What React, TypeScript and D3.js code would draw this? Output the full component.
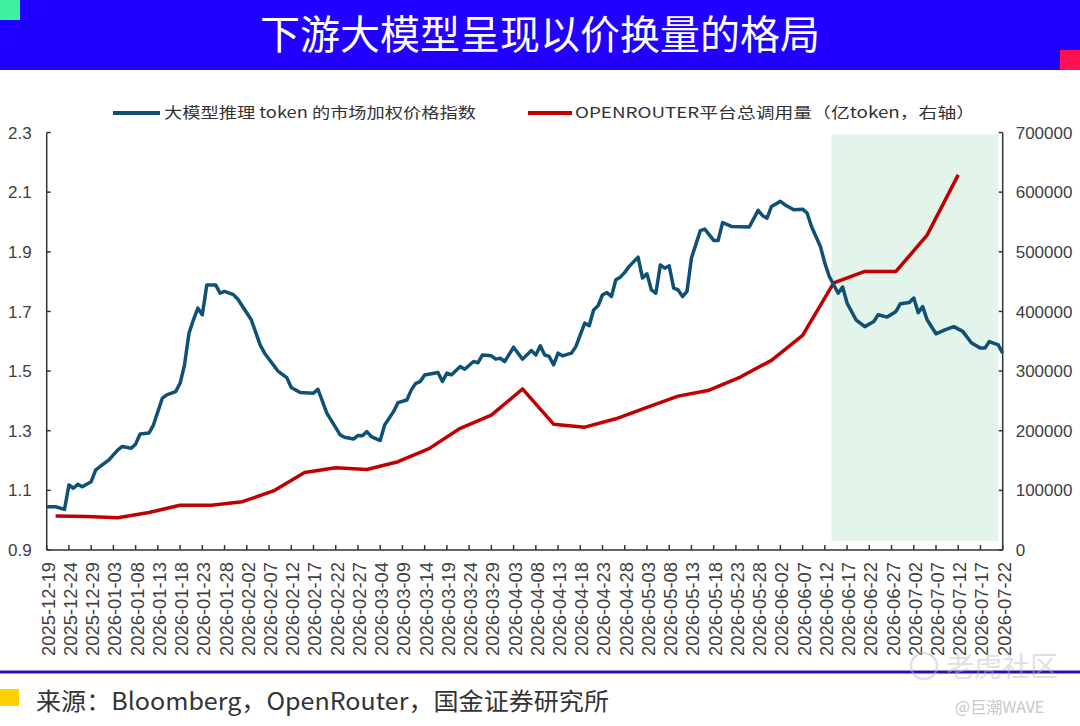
import React, { useEffect } from "react";
import * as d3 from "d3";

const TITLE = "下游大模型呈现以价换量的格局";
const SOURCE = "来源：Bloomberg，OpenRouter，国金证券研究所";
const LEFT_NAME = "大模型推理 token 的市场加权价格指数";
const RIGHT_NAME = "OPENROUTER平台总调用量（亿token，右轴）";

const BLUE = "#0f5077";
const RED = "#c00000";
const CN_FONT = "'Noto Sans CJK SC', 'Noto Sans', sans-serif";
const NUM_FONT = "'Liberation Sans', Arial, sans-serif";

// price index (left axis)
const priceDates = [
  "2025-12-19", "2025-12-21", "2025-12-23", "2025-12-24", "2025-12-25", "2025-12-26", "2025-12-27", "2025-12-29",
  "2025-12-30", "2025-12-31", "2026-01-02", "2026-01-04", "2026-01-05", "2026-01-07", "2026-01-08", "2026-01-09",
  "2026-01-11", "2026-01-12", "2026-01-14", "2026-01-15", "2026-01-17", "2026-01-18", "2026-01-19", "2026-01-20",
  "2026-01-21", "2026-01-22", "2026-01-23", "2026-01-24", "2026-01-26", "2026-01-27", "2026-01-28", "2026-01-30",
  "2026-01-31", "2026-02-03", "2026-02-05", "2026-02-06", "2026-02-09", "2026-02-11", "2026-02-12", "2026-02-14",
  "2026-02-17", "2026-02-18", "2026-02-20", "2026-02-23", "2026-02-24", "2026-02-26", "2026-02-27", "2026-02-28",
  "2026-03-01", "2026-03-02", "2026-03-04", "2026-03-05", "2026-03-07", "2026-03-08", "2026-03-10", "2026-03-11",
  "2026-03-12", "2026-03-13", "2026-03-14", "2026-03-17", "2026-03-18", "2026-03-19", "2026-03-20", "2026-03-22",
  "2026-03-23", "2026-03-25", "2026-03-26", "2026-03-27", "2026-03-29", "2026-03-30", "2026-03-31", "2026-04-01",
  "2026-04-03", "2026-04-04", "2026-04-05", "2026-04-07", "2026-04-08", "2026-04-09", "2026-04-10", "2026-04-11",
  "2026-04-12", "2026-04-13", "2026-04-14", "2026-04-16", "2026-04-17", "2026-04-19", "2026-04-20", "2026-04-21",
  "2026-04-22", "2026-04-23", "2026-04-24", "2026-04-25", "2026-04-26", "2026-04-27", "2026-04-28", "2026-04-29",
  "2026-05-01", "2026-05-02", "2026-05-03", "2026-05-04", "2026-05-05", "2026-05-06", "2026-05-07", "2026-05-08",
  "2026-05-09", "2026-05-10", "2026-05-11", "2026-05-12", "2026-05-13", "2026-05-15", "2026-05-16", "2026-05-18",
  "2026-05-19", "2026-05-20", "2026-05-22", "2026-05-26", "2026-05-28", "2026-05-29", "2026-05-30", "2026-05-31",
  "2026-06-02", "2026-06-03", "2026-06-05", "2026-06-07", "2026-06-08", "2026-06-09", "2026-06-11", "2026-06-12",
  "2026-06-13", "2026-06-15", "2026-06-16", "2026-06-17", "2026-06-19", "2026-06-21", "2026-06-23", "2026-06-24",
  "2026-06-26", "2026-06-28", "2026-06-29", "2026-07-01", "2026-07-02", "2026-07-03", "2026-07-04", "2026-07-05",
  "2026-07-07", "2026-07-09", "2026-07-11", "2026-07-13", "2026-07-15", "2026-07-17", "2026-07-18", "2026-07-19",
  "2026-07-21", "2026-07-22",
];
const priceValues = [
  1.045, 1.045, 1.036, 1.118, 1.107, 1.12, 1.112, 1.129,
  1.168, 1.18, 1.202, 1.236, 1.247, 1.241, 1.255, 1.289,
  1.292, 1.319, 1.409, 1.42, 1.431, 1.459, 1.521, 1.627,
  1.672, 1.711, 1.689, 1.789, 1.789, 1.761, 1.767, 1.756,
  1.741, 1.672, 1.588, 1.56, 1.5, 1.478, 1.445, 1.428,
  1.426, 1.439, 1.359, 1.286, 1.278, 1.272, 1.284, 1.283,
  1.297, 1.28, 1.267, 1.319, 1.364, 1.394, 1.403, 1.437,
  1.459, 1.465, 1.487, 1.495, 1.465, 1.493, 1.487, 1.515,
  1.506, 1.532, 1.528, 1.554, 1.551, 1.54, 1.543, 1.532,
  1.58, 1.56, 1.54, 1.569, 1.554, 1.585, 1.554, 1.549,
  1.521, 1.56, 1.551, 1.56, 1.582, 1.661, 1.652, 1.705,
  1.719, 1.756, 1.763, 1.75, 1.806, 1.815, 1.831, 1.851,
  1.882, 1.812, 1.826, 1.772, 1.761, 1.856, 1.845, 1.853,
  1.778, 1.772, 1.75, 1.767, 1.879, 1.971, 1.976, 1.938,
  1.938, 1.998, 1.985, 1.983, 2.039, 2.021, 2.013, 2.052,
  2.069, 2.058, 2.041, 2.043, 2.03, 1.985, 1.918, 1.862,
  1.817, 1.761, 1.782, 1.728, 1.672, 1.649, 1.666, 1.689,
  1.681, 1.7, 1.726, 1.73, 1.745, 1.696, 1.716, 1.672,
  1.625, 1.638, 1.649, 1.633, 1.594, 1.577, 1.577, 1.599,
  1.588, 1.56,
];

// weekly call volume (right axis, 亿token)
const usageDates = [
  "2025-12-21", "2025-12-28", "2026-01-04", "2026-01-11", "2026-01-18", "2026-01-25", "2026-02-01", "2026-02-08",
  "2026-02-15", "2026-02-22", "2026-03-01", "2026-03-08", "2026-03-15", "2026-03-22", "2026-03-29", "2026-04-05",
  "2026-04-12", "2026-04-19", "2026-04-26", "2026-05-03", "2026-05-10", "2026-05-17", "2026-05-24", "2026-05-31",
  "2026-06-07", "2026-06-14", "2026-06-21", "2026-06-28", "2026-07-05", "2026-07-12",
];
const usageValues = [
  57000, 56000, 54000, 63000, 75000, 75000, 81000, 99000,
  130000, 138000, 135000, 148000, 170000, 204000, 226000, 270000,
  211000, 206000, 220000, 239000, 258000, 268000, 290000, 318000,
  360000, 448000, 467000, 467000, 528000, 629000,
];

const leftTicks = [0.9, 1.1, 1.3, 1.5, 1.7, 1.9, 2.1, 2.3];
const rightTicks = [0, 100000, 200000, 300000, 400000, 500000, 600000, 700000];
const axisStart = "2025-12-19";
const axisEnd = "2026-07-22";
const labelStepDays = 5;
const shadeRange = ["2026-06-13", "2026-07-21"];

const W = 1080;
const H = 726;
const plot = { left: 46.7, right: 1002.7, top: 132.5, bottom: 550 };

export default function App() {
  useEffect(() => {
    document.body.style.margin = "0";
  }, []);

  const parse = d3.utcParse("%Y-%m-%d");
  const fmt = d3.utcFormat("%Y-%m-%d");
  const x = d3.scaleUtc().domain([parse(axisStart)!, parse(axisEnd)!]).range([plot.left, plot.right]);
  const yL = d3.scaleLinear().domain([0.9, 2.3]).range([plot.bottom, plot.top]);
  const yR = d3.scaleLinear().domain([0, 700000]).range([plot.bottom, plot.top]);

  const xTicks = d3.utcDay.range(parse(axisStart)!, d3.utcDay.offset(parse(axisEnd)!, 1), labelStepDays);

  const price = priceDates.map((d, i) => ({ date: parse(d)!, v: priceValues[i] }));
  const usage = usageDates.map((d, i) => ({ date: parse(d)!, v: usageValues[i] }));

  const priceLine = d3.line<{ date: Date; v: number }>().x((d) => x(d.date)).y((d) => yL(d.v));
  const usageLine = d3.line<{ date: Date; v: number }>().x((d) => x(d.date)).y((d) => yR(d.v));

  // shaded window starts half a day into 06-13
  const shadeX0 = x(d3.utcHour.offset(parse(shadeRange[0])!, 12));
  const shadeX1 = x(parse(shadeRange[1])!);

  return (
    <svg width={W} height={H} viewBox={`0 0 ${W} ${H}`} style={{ display: "block", background: "#fff" }}>
      {/* header band */}
      <rect x={0} y={0} width={W} height={70} fill="#2200ff" />
      <rect x={0} y={0} width={20} height={20} fill="#3cf0a0" />
      <rect x={1060} y={50} width={20} height={20} fill="#ff1050" />
      <text x={540} y={35} dy="0.36em" textAnchor="middle" fill="#fff" fontSize={40} fontFamily={CN_FONT}>
        {TITLE}
      </text>

      {/* legend */}
      <line x1={113} x2={160} y1={113} y2={113} stroke={BLUE} strokeWidth={4} />
      <text x={164} y={113} dy="0.36em" fontSize={15} fill="#333" fontFamily={CN_FONT} textLength={312} lengthAdjust="spacingAndGlyphs">
        {LEFT_NAME}
      </text>
      <line x1={528} x2={572} y1={113} y2={113} stroke={RED} strokeWidth={4} />
      <text x={575} y={113} dy="0.36em" fontSize={15} fill="#333" fontFamily={CN_FONT} textLength={400} lengthAdjust="spacingAndGlyphs">
        {RIGHT_NAME}
      </text>

      {/* highlighted period */}
      <rect x={shadeX0} y={plot.top + 2} width={shadeX1 - shadeX0} height={plot.bottom - plot.top - 11} fill="#e3f4ea" />

      {/* axes */}
      <g stroke="#333" strokeWidth={1.5} fill="none">
        <line x1={plot.left} x2={plot.left} y1={plot.top} y2={plot.bottom} />
        <line x1={plot.right} x2={plot.right} y1={plot.top} y2={plot.bottom} />
        <line x1={plot.left} x2={plot.right} y1={plot.bottom} y2={plot.bottom} />
        {leftTicks.map((t) => (
          <line key={"lt" + t} x1={plot.left} x2={plot.left + 4} y1={yL(t)} y2={yL(t)} />
        ))}
        {rightTicks.map((t) => (
          <line key={"rt" + t} x1={plot.right - 4} x2={plot.right} y1={yR(t)} y2={yR(t)} />
        ))}
        {xTicks.map((t) => (
          <line key={"xt" + fmt(t)} x1={x(t)} x2={x(t)} y1={plot.bottom} y2={plot.bottom - 5} />
        ))}
      </g>

      {leftTicks.map((t) => (
        <text key={"ll" + t} x={plot.left - 15} y={yL(t)} dy="0.36em" textAnchor="end" fontSize={17} fill="#404040" fontFamily={NUM_FONT}>
          {d3.format(".1f")(t)}
        </text>
      ))}
      {rightTicks.map((t) => (
        <text key={"rl" + t} x={plot.right + 13} y={yR(t)} dy="0.36em" fontSize={17} fill="#404040" fontFamily={NUM_FONT}>
          {t}
        </text>
      ))}
      {xTicks.map((t) => (
        <text
          key={"xl" + fmt(t)}
          transform={`translate(${x(t) + 1.5},${plot.bottom + 12}) rotate(-90)`}
          dy="0.36em"
          textAnchor="end"
          fontSize={18}
          fill="#404040"
          fontFamily={NUM_FONT}
          textLength={94}
          lengthAdjust="spacingAndGlyphs"
        >
          {fmt(t)}
        </text>
      ))}

      {/* series */}
      <path d={usageLine(usage) ?? ""} fill="none" stroke={RED} strokeWidth={3.5} strokeLinejoin="round" />
      <path d={priceLine(price) ?? ""} fill="none" stroke={BLUE} strokeWidth={3.5} strokeLinejoin="round" />

      {/* footer */}
      <line x1={0} x2={W} y1={672} y2={672} stroke="#2a10b0" strokeWidth={3} />
      <rect x={0} y={689} width={19} height={17} fill="#ffd000" />
      <text x={36} y={701} dy="0.36em" fontSize={24} fill="#333" fontFamily={CN_FONT} textLength={573} lengthAdjust="spacingAndGlyphs">
        {SOURCE}
      </text>

      {/* watermark */}
      <g opacity={0.45}>
        <circle cx={924} cy={666} r={13} fill="none" stroke="#bbb" strokeWidth={2.5} />
        <text x={946} y={667} dy="0.36em" fontSize={28} fill="#bbb" fontFamily={CN_FONT}>
          老虎社区
        </text>
      </g>
      <text x={955} y={707} dy="0.36em" fontSize={16} fill="#c8c8c8" fontFamily={CN_FONT}>
        @巨潮WAVE
      </text>
    </svg>
  );
}
